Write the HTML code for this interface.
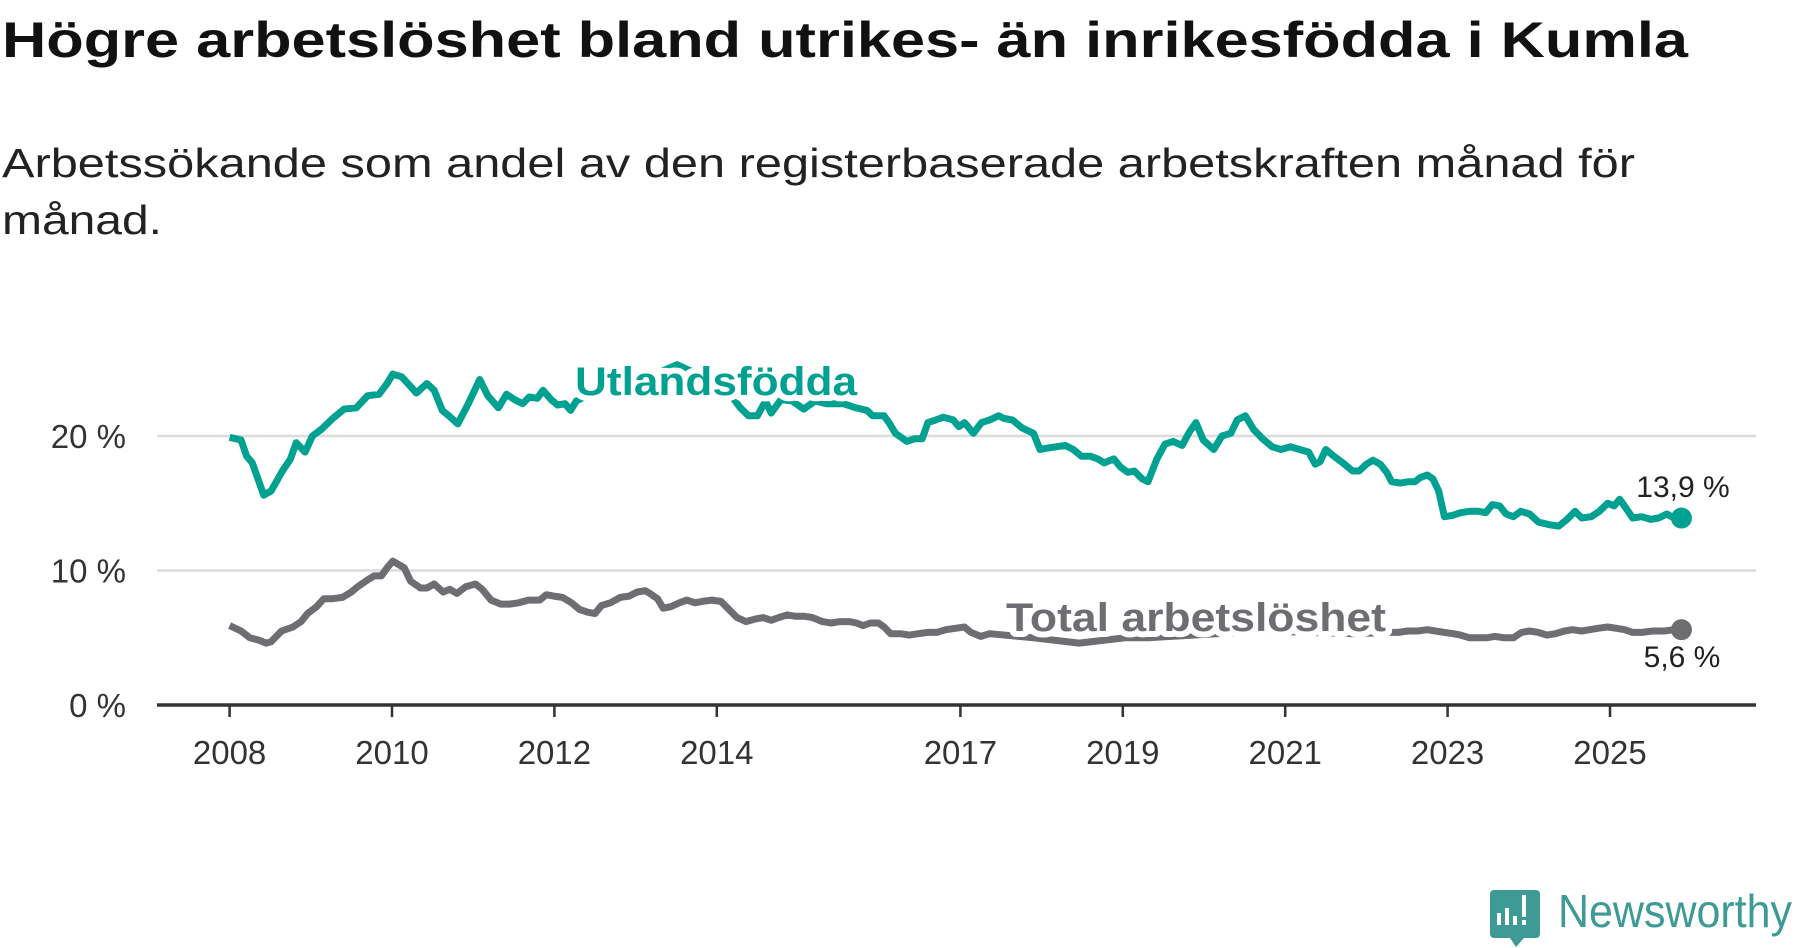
<!DOCTYPE html>
<html><head><meta charset="utf-8">
<style>
html,body{margin:0;padding:0;background:#fff;}
svg{display:block;font-family:"Liberation Sans","DejaVu Sans",sans-serif;}
</style></head>
<body>
<svg id="chart" width="1800" height="948" viewBox="0 0 1800 948" xmlns="http://www.w3.org/2000/svg">
<text x="2" y="57" font-size="50" font-weight="bold" fill="#111" textLength="1686" lengthAdjust="spacingAndGlyphs">Högre arbetslöshet bland utrikes- än inrikesfödda i Kumla</text>
<text x="2" y="177" font-size="41" fill="#222" textLength="1633" lengthAdjust="spacingAndGlyphs">Arbetssökande som andel av den registerbaserade arbetskraften månad för</text>
<text x="2" y="234" font-size="41" fill="#222" textLength="160" lengthAdjust="spacingAndGlyphs">månad.</text>
<g id="grid"></g>
<g id="axes"></g>
<g id="series"></g>
<g id="labels"></g>
<g>
  <path d="M1494 890 h42 a4 4 0 0 1 4 4 v40 a4 4 0 0 1 -4 4 h-12 l-8 9 l-6 -9 h-16 a4 4 0 0 1 -4 -4 v-40 a4 4 0 0 1 4 -4z" fill="#3d9a94"/>
  <rect x="1497" y="913" width="4" height="12" fill="#fff"/>
  <rect x="1505" y="908" width="4" height="17" fill="#fff"/>
  <rect x="1513" y="916" width="4" height="9" fill="#fff"/>
  <rect x="1522" y="895" width="4" height="22" fill="#fff"/>
  <rect x="1522" y="920" width="4" height="5" fill="#fff"/>
  <text x="1558" y="927" font-size="46" fill="#3d9a94" textLength="234" lengthAdjust="spacingAndGlyphs">Newsworthy</text>
</g>
</svg>
<script>
const years = [2008,2010,2012,2014,2017,2019,2021,2023,2025];
const yTicks = [0,10,20];
const yTickLabels = ["0 %","10 %","20 %"];
const utlT = [2008.00,2008.14,2008.21,2008.28,2008.42,2008.51,2008.65,2008.75,2008.82,2008.93,2009.02,2009.13,2009.27,2009.41,2009.56,2009.70,2009.84,2009.94,2010.01,2010.12,2010.21,2010.30,2010.43,2010.52,2010.62,2010.70,2010.81,2010.94,2011.08,2011.18,2011.31,2011.41,2011.51,2011.61,2011.69,2011.79,2011.86,2011.96,2012.04,2012.13,2012.20,2012.27,2012.67,2013.09,2013.51,2013.80,2014.08,2014.29,2014.39,2014.50,2014.60,2014.67,2014.79,2014.93,2015.07,2015.21,2015.35,2015.56,2015.71,2015.85,2015.92,2016.06,2016.13,2016.20,2016.34,2016.44,2016.53,2016.60,2016.70,2016.79,2016.91,2016.98,2017.05,2017.16,2017.26,2017.36,2017.47,2017.54,2017.64,2017.76,2017.90,2017.98,2018.07,2018.18,2018.29,2018.39,2018.49,2018.60,2018.69,2018.77,2018.89,2018.97,2019.06,2019.14,2019.24,2019.31,2019.42,2019.52,2019.62,2019.73,2019.82,2019.90,2019.99,2020.12,2020.22,2020.33,2020.41,2020.51,2020.61,2020.72,2020.84,2020.95,2021.06,2021.18,2021.29,2021.37,2021.43,2021.50,2021.60,2021.71,2021.83,2021.91,2022.00,2022.08,2022.17,2022.25,2022.31,2022.42,2022.52,2022.60,2022.66,2022.75,2022.82,2022.89,2022.96,2023.06,2023.16,2023.27,2023.38,2023.47,2023.55,2023.64,2023.72,2023.81,2023.90,2024.01,2024.12,2024.26,2024.37,2024.47,2024.57,2024.65,2024.77,2024.87,2024.97,2025.05,2025.12,2025.19,2025.28,2025.39,2025.50,2025.60,2025.70,2025.79,2025.88];
const utlV = [19.9,19.7,18.5,18.0,15.6,15.9,17.4,18.3,19.5,18.8,20.0,20.5,21.3,22.0,22.1,23.0,23.1,23.9,24.6,24.4,23.8,23.2,23.9,23.4,21.9,21.5,20.9,22.4,24.2,23.0,22.1,23.1,22.7,22.4,22.9,22.8,23.4,22.7,22.3,22.4,21.9,22.6,23.8,24.2,25.3,24.5,23.8,22.1,21.5,21.5,22.6,21.7,22.7,22.6,22.0,22.6,22.4,22.4,22.1,21.9,21.5,21.5,20.9,20.2,19.6,19.8,19.8,21.0,21.2,21.4,21.2,20.7,21.0,20.2,21.0,21.2,21.5,21.3,21.2,20.6,20.2,19.0,19.1,19.2,19.3,19.0,18.5,18.5,18.3,18.0,18.3,17.7,17.3,17.4,16.8,16.6,18.3,19.4,19.6,19.3,20.3,21.0,19.7,19.0,20.0,20.2,21.2,21.5,20.5,19.8,19.2,19.0,19.2,19.0,18.8,17.9,18.1,19.0,18.5,18.0,17.4,17.4,17.9,18.2,17.9,17.3,16.6,16.5,16.6,16.6,16.9,17.1,16.8,15.9,14.0,14.1,14.3,14.4,14.4,14.3,14.9,14.8,14.2,14.0,14.4,14.2,13.6,13.4,13.3,13.8,14.4,13.9,14.0,14.4,15.0,14.8,15.3,14.7,13.9,14.0,13.8,13.9,14.2,13.9,13.9];
const totT = [2008.00,2008.14,2008.25,2008.37,2008.45,2008.51,2008.64,2008.78,2008.88,2008.96,2009.07,2009.16,2009.27,2009.39,2009.50,2009.58,2009.70,2009.78,2009.87,2009.94,2010.01,2010.15,2010.23,2010.35,2010.43,2010.52,2010.63,2010.71,2010.80,2010.91,2011.03,2011.11,2011.22,2011.34,2011.45,2011.56,2011.68,2011.82,2011.90,2011.99,2012.10,2012.21,2012.31,2012.41,2012.50,2012.58,2012.69,2012.81,2012.92,2013.02,2013.12,2013.20,2013.27,2013.34,2013.43,2013.54,2013.63,2013.73,2013.82,2013.94,2014.05,2014.15,2014.25,2014.36,2014.48,2014.57,2014.67,2014.76,2014.87,2014.96,2015.07,2015.18,2015.30,2015.41,2015.52,2015.63,2015.72,2015.80,2015.89,2015.99,2016.06,2016.14,2016.26,2016.37,2016.48,2016.60,2016.71,2016.82,2016.94,2017.05,2017.13,2017.25,2017.36,2017.90,2018.46,2019.03,2019.31,2020.72,2021.85,2022.28,2022.39,2022.51,2022.63,2022.75,2022.85,2022.96,2023.07,2023.16,2023.27,2023.38,2023.48,2023.58,2023.70,2023.81,2023.91,2024.01,2024.12,2024.22,2024.33,2024.44,2024.54,2024.65,2024.75,2024.85,2024.97,2025.08,2025.18,2025.28,2025.39,2025.53,2025.67,2025.79,2025.88];
const totV = [5.9,5.5,5.0,4.8,4.6,4.7,5.5,5.8,6.2,6.8,7.3,7.9,7.9,8.0,8.4,8.8,9.3,9.6,9.6,10.2,10.7,10.2,9.2,8.7,8.7,9.0,8.4,8.6,8.3,8.8,9.0,8.6,7.8,7.5,7.5,7.6,7.8,7.8,8.2,8.1,8.0,7.6,7.1,6.9,6.8,7.4,7.6,8.0,8.1,8.4,8.5,8.2,7.9,7.2,7.3,7.6,7.8,7.6,7.7,7.8,7.7,7.1,6.5,6.2,6.4,6.5,6.3,6.5,6.7,6.6,6.6,6.5,6.2,6.1,6.2,6.2,6.1,5.9,6.1,6.1,5.8,5.3,5.3,5.2,5.3,5.4,5.4,5.6,5.7,5.8,5.4,5.1,5.3,5.0,4.6,5.0,5.0,5.5,5.3,5.4,5.4,5.5,5.5,5.6,5.5,5.4,5.3,5.2,5.0,5.0,5.0,5.1,5.0,5.0,5.4,5.5,5.4,5.2,5.3,5.5,5.6,5.5,5.6,5.7,5.8,5.7,5.6,5.4,5.4,5.5,5.5,5.6,5.6];
const endLabels = ["13,9 %","5,6 %"];

const NS="http://www.w3.org/2000/svg";
const x0=157, x1=1756;
function xs(t){return 229.6+(t-2008)*81.2;}
function ys(v){return 705-v*13.45;}
function mk(tag,attrs,parent){const e=document.createElementNS(NS,tag);for(const k in attrs)e.setAttribute(k,attrs[k]);parent.appendChild(e);return e;}
const grid=document.getElementById('grid'),axes=document.getElementById('axes'),series=document.getElementById('series'),labels=document.getElementById('labels');

yTicks.forEach((v,i)=>{
  if(v>0){const l=mk('line',{x1:x0,x2:x1,y1:ys(v),y2:ys(v),stroke:'#dcdcdc','stroke-width':2.5},grid);
  
  }
  const t=mk('text',{x:126,y:ys(v)+12,'text-anchor':'end','font-size':33,fill:'#333'},axes);
  t.textContent=yTickLabels[i];
  
  
});
const ax=mk('line',{x1:x0,x2:x1,y1:705,y2:705,stroke:'#333','stroke-width':3.5},axes);


years.forEach(y=>{
  const tk=mk('line',{x1:xs(y),x2:xs(y),y1:705,y2:717,stroke:'#333','stroke-width':2.5},axes);
  
  
  const t=mk('text',{x:xs(y),y:764,'text-anchor':'middle','font-size':33,fill:'#333'},axes);
  t.textContent=y;
  
  
});
function line(T,V,color,name){
  const d=T.map((t,i)=>(i?'L':'M')+xs(t).toFixed(1)+' '+ys(V[i]).toFixed(1)).join(' ');
  const p=mk('path',{d:d,fill:'none',stroke:color,'stroke-width':7,'stroke-linejoin':'round'},series);
  
  
  const n=T.length-1;
  const c=mk('circle',{cx:xs(T[n]),cy:ys(V[n]),r:10.5,fill:color},series);
  
  
}
line(utlT,utlV,'#00a191','utlandsfodda');
line(totT,totV,'#6e6d72','total');

function lbl(txt,x,y,size,color,name,bold,len){
  const a={x:x,y:y,'text-anchor':'middle','font-size':size,fill:color,stroke:'#fff','stroke-width':bold?12:6,'paint-order':'stroke','stroke-linejoin':'round'};
  if(bold)a['font-weight']='bold';
  if(len){a.textLength=len;a.lengthAdjust='spacingAndGlyphs';}
  const t=mk('text',a,labels);
  t.textContent=txt;
  
  
}
lbl('Utlandsfödda',716,395,40,'#00a191','series-label-utlandsfodda',true,282);
lbl('Total arbetslöshet',1196,631,40,'#6e6d72','series-label-total',true,380);
lbl(endLabels[0],1683,497,30,'#222','end-label-utlandsfodda',false,null);
lbl(endLabels[1],1682,667,30,'#222','end-label-total',false,null);
</script>
</body></html>
